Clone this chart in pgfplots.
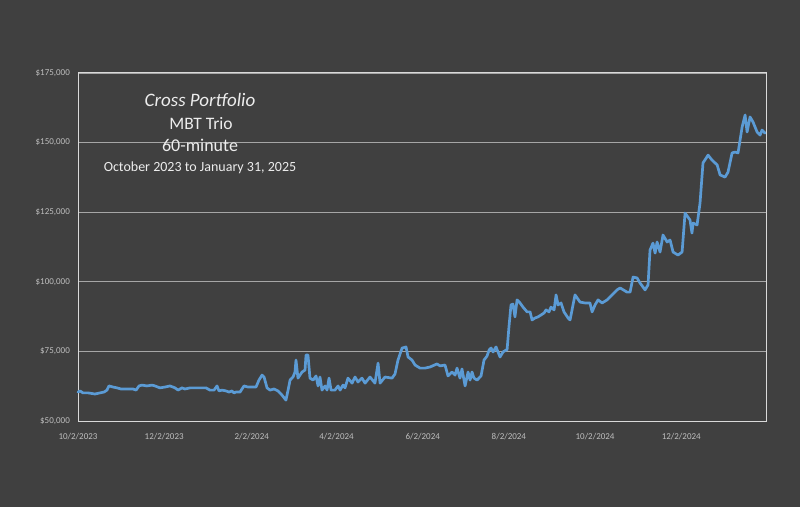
\documentclass[border=0pt]{standalone}
\usepackage{pgfplots}
\pgfplotsset{compat=1.18}
\usepackage{pgfplotstable}
\usepackage{fontspec}
\setmainfont{Carlito}
\definecolor{bg}{HTML}{404040}
\definecolor{linec}{HTML}{5B9BD5}
\definecolor{gridc}{HTML}{A6A6A6}
\definecolor{framec}{HTML}{D9D9D9}
\definecolor{tickc}{HTML}{BFBFBF}
\definecolor{titlec}{HTML}{EDEDED}

\pgfplotstableread{
d v
0 60400
1.4 60800
3.5 60100
7.1 60100
12.0 59700
15.6 60100
18.4 60400
20.5 61100
21.9 62600
24.8 62200
27.6 61900
30.4 61500
34.0 61500
38.9 61500
41.1 61100
43.2 62600
45.3 62900
48.8 62600
52.4 62900
54.5 62600
58.0 61900
61.6 62200
65.1 62600
68.7 61900
70.8 61100
73.6 61900
75.7 61500
79.3 61900
86.4 61900
90.6 61900
93.4 61100
96.3 61100
98.4 62600
99.8 60800
101.9 61100
104.8 60800
106.9 60400
109.0 60800
110.4 60100
111.8 60400
114.7 60400
117.5 62600
120.3 62200
123.2 62200
126.0 62200
128.1 64700
130.3 66500
131.7 65800
133.8 61900
135.9 61100
138.7 61500
141.6 60800
144.4 59300
147.2 57500
148.7 61100
150.1 64700
152.2 65800
153.6 67600
154.3 71900
155.7 65400
158.6 67600
160.7 68300
161.4 73700
162.8 73700
164.2 65400
166.4 64700
168.5 66200
169.9 62600
171.3 65800
172.7 61100
174.9 62600
176.3 61100
177.7 65400
179.1 61100
181.9 61100
184.1 62600
185.5 61100
187.6 62900
189.0 61900
191.1 65400
194.0 63600
196.1 65800
198.2 64000
201.0 65400
203.2 63600
206.7 65800
210.2 63600
212.4 70800
213.8 63600
217.3 65800
222.3 65400
224.4 66900
226.5 71900
229.4 76200
232.2 76600
233.6 73000
236.4 71900
238.6 70100
242.1 69000
245.6 69000
249.2 69400
254.1 70500
256.3 69800
259.8 70100
261.9 66200
264.8 67600
266.9 66500
268.3 69000
270.4 65400
271.8 68700
274.0 62600
276.1 67600
277.5 64700
278.9 67600
280.3 65400
282.5 64700
285.3 66200
287.4 71900
289.5 73300
291.0 75500
292.4 76200
293.8 74800
295.9 76600
297.3 74800
298.7 73000
300.9 74800
303.0 75500
303.7 75500
305.1 84100
306.5 91700
307.9 92000
309.3 87400
310.8 93500
312.9 92400
315.0 90900
317.9 89200
320.0 89200
321.4 86300
323.5 87000
325.6 87400
327.8 88100
329.9 88800
331.3 89900
333.4 89200
334.8 90900
337.0 89900
338.4 95300
339.8 91700
341.9 92400
344.0 89200
346.9 87000
348.3 86300
351.8 95300
355.4 92700
358.9 92400
362.4 92400
363.9 89200
366.0 91700
368.1 93500
371.0 92400
374.5 93500
378.0 95300
381.6 97100
383.7 97800
388.6 96300
390.8 96300
392.9 101700
395.7 101400
397.8 99600
401.4 97100
403.5 98900
404.9 111400
407.0 113900
408.5 110300
409.9 114300
412.0 110700
414.1 116800
417.0 114300
419.1 115000
421.2 110700
424.7 109600
427.6 110700
429.7 124700
433.2 122200
434.6 117500
435.4 121100
438.2 120400
440.3 128300
442.4 142700
446.0 145500
448.8 143700
452.4 142000
454.5 138400
458.0 137600
460.1 139400
463.0 146300
465.1 146600
467.2 146300
470.1 155600
472.2 159900
473.6 153800
475.7 159200
477.8 157400
480.7 153800
482.8 152700
484.2 154500
486.3 153400
}\portfolio

\begin{document}
\begin{tikzpicture}
\fill[bg] (-78pt,-86pt) rectangle (722pt,421pt);
\begin{axis}[
  scale only axis,
  width=688pt, height=348pt,
  at={(0,0)}, anchor=south west,
  xmin=0, xmax=487,
  ymin=50000, ymax=175000,
  scaled y ticks=false,
  scaled x ticks=false,
  xtick={0,61,123,183,244,305,366,427},
  xticklabels={10/2/2023,12/2/2023,2/2/2024,4/2/2024,6/2/2024,8/2/2024,10/2/2024,12/2/2024},
  ytick={50000,75000,100000,125000,150000,175000},
  yticklabels={\$50{,}000,\$75{,}000,\$100{,}000,\$125{,}000,\$150{,}000,\$175{,}000},
  major tick length=0pt,
  ymajorgrids,
  grid style={gridc, line width=0.9pt},
  axis line style={framec, line width=1pt},
  tick label style={font=\fontsize{9}{10}\selectfont, text=tickc},
  yticklabel style={anchor=east, inner sep=0pt, xshift=-8pt},
  xticklabel style={anchor=north, inner sep=0pt, yshift=-12pt},
  axis background/.style={fill=bg},
  clip=false,
]
\addplot[linec, line width=2.7pt, line join=round, line cap=round] table[x=d, y=v] {\portfolio};
\end{axis}
\node[anchor=base, text=titlec, font=\fontsize{19}{22}\selectfont\itshape] at (122pt,314pt) {Cross Portfolio};
\node[anchor=base, text=titlec, font=\fontsize{17.5}{20}\selectfont] at (123pt,291.7pt) {MBT Trio};
\node[anchor=base, text=titlec, font=\fontsize{18}{20}\selectfont] at (122pt,269.3pt) {60-minute};
\node[anchor=base, text=titlec, font=\fontsize{14}{16}\selectfont] at (122pt,250pt) {October 2023 to January 31, 2025};
\end{tikzpicture}
\end{document}
